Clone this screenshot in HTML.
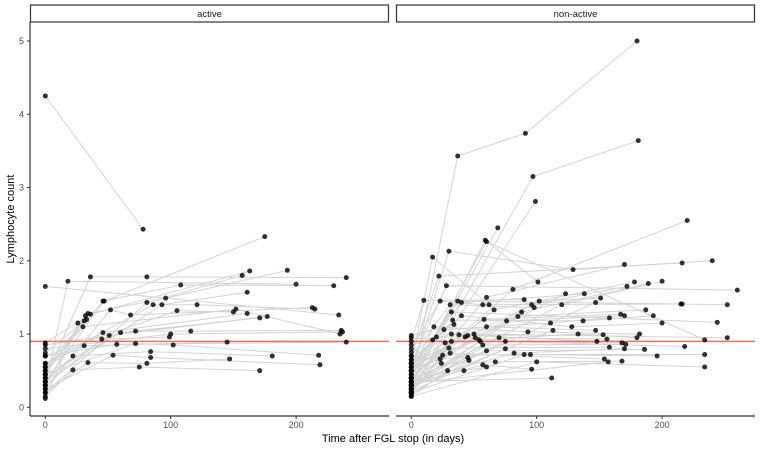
<!DOCTYPE html>
<html><head><meta charset="utf-8"><style>
body{margin:0;background:#fff;font-family:"Liberation Sans",sans-serif}
svg text{font-family:"Liberation Sans",sans-serif}
</style></head><body>
<svg id="c" width="760" height="448"></svg>
<script>
const yTicks=[0,1,2,3,4,5];
const xTicks=[0,100,200];
const panelNames=["active","non-active"];
const threshold=0.9;
const activeData=[
[[0,4.25],[78,2.43]],[[0,1.65],[234,1.26]],[[0,0.3],[18,1.72],[200,1.68]],
[[0,0.4],[36,1.78],[81,1.78],[240,1.77]],[[0,0.35],[47,1.45],[175,2.33]],
[[0,0.5],[46,1.45],[108,1.67],[230,1.66]],[[0,0.3],[32,1.25],[163,1.86]],
[[0,0.45],[34,1.28],[96,1.49],[193,1.87]],[[0,0.2],[81,1.43],[157,1.8]],
[[0,0.25],[52,1.33],[68,1.26],[213,1.36]],[[0,0.6],[86,1.4],[121,1.4],[215,1.34]],
[[0,0.35],[93,1.4],[161,1.57]],[[0,0.7],[105,1.32],[150,1.3]],
[[0,0.5],[30,1.1],[152,1.34],[235,1.0]],[[0,0.55],[46,1.02],[161,1.28]],
[[0,0.45],[60,1.02],[171,1.22]],[[0,0.4],[51,0.98],[177,1.24]],
[[0,0.85],[72,1.04],[116,1.04],[236,1.05]],[[0,0.8],[100,1.0],[237,1.03]],
[[0,0.3],[45,0.93],[99,0.96]],[[0,0.6],[31,0.84],[145,0.89]],
[[0,0.7],[57,0.86],[240,0.89]],[[0,0.45],[72,0.87],[102,0.85],[218,0.71]],
[[0,0.35],[22,0.7],[84,0.76],[181,0.7]],[[0,0.25],[54,0.71],[84,0.68],[219,0.58]],
[[0,0.2],[34,0.61],[81,0.6],[147,0.66]],[[0,0.15],[22,0.51],[75,0.55],[171,0.5]],
[[0,0.12],[26,1.15]],[[0,0.88],[36,1.27]],[[0,0.74],[33,1.2]],[[0,0.55],[31,1.18]]
];
const nonActiveData=[
[[0,0.3],[37,3.43],[91,3.74],[180,5.0]],[[0,0.2],[97,3.15],[181,3.64]],
[[0,0.25],[99,2.81]],[[0,0.35],[69,2.45]],[[0,0.3],[59,2.28],[101,1.71]],
[[0,0.4],[60,2.26],[234,0.92]],[[0,0.5],[30,2.13],[129,1.88],[240,2.0]],
[[0,0.6],[17,2.05],[62,1.4]],[[0,0.7],[22,1.79],[216,1.97]],
[[0,0.4],[81,1.61],[220,2.55]],[[0,0.3],[60,1.5],[170,1.95]],
[[0,0.6],[28,1.66],[260,1.6]],[[0,0.5],[37,1.45],[215,1.41],[252,1.4]],
[[0,0.45],[32,1.3],[244,1.16]],[[0,0.55],[50,1.0],[252,0.95]],
[[0,0.2],[90,0.72],[234,0.72]],[[0,0.15],[100,0.62],[234,0.55]],
[[0,0.3],[75,0.9],[218,0.83]],[[0,0.35],[120,1.4],[200,1.72]],
[[0,0.25],[88,1.3],[189,1.69]],[[0,0.4],[66,1.33],[178,1.71]],
[[0,0.45],[96,1.4],[172,1.65]],[[0,0.5],[123,1.55]],[[0,0.55],[40,1.43],[138,1.55]],
[[0,0.6],[102,1.45],[151,1.49]],[[0,0.3],[147,1.43]],[[0,0.35],[112,0.4]],
[[0,0.9],[10,1.46],[90,1.47]],[[0,0.8],[23,1.45],[57,1.4],[216,1.41]],
[[0,0.7],[31,1.4],[98,1.36]],[[0,0.65],[40,1.25],[128,1.1],[200,1.15]],
[[0,0.6],[26,1.06],[111,1.15],[158,1.22]],[[0,0.5],[58,1.2],[167,1.27]],
[[0,0.4],[76,1.18],[170,1.25]],[[0,0.45],[33,1.19],[137,1.18],[193,1.25]],
[[0,0.3],[85,1.24],[187,1.33]],[[0,0.35],[60,1.1],[147,1.05]],
[[0,0.5],[18,1.1],[93,1.03],[182,1.0]],[[0,0.55],[45,0.98],[153,0.99]],
[[0,0.6],[54,0.92],[133,1.0],[180,0.95]],[[0,0.25],[70,0.95],[156,0.93]],
[[0,0.2],[38,0.99],[148,0.9]],[[0,0.4],[32,0.9],[168,0.88]],
[[0,0.3],[57,0.85],[171,0.86]],[[0,0.65],[30,0.81],[158,0.82]],
[[0,0.35],[82,0.74],[170,0.8]],[[0,0.4],[60,0.77],[186,0.79]],
[[0,0.2],[25,0.71],[95,0.72],[196,0.7]],[[0,0.3],[31,0.74],[154,0.66]],
[[0,0.25],[24,0.6],[67,0.62],[168,0.63]],[[0,0.3],[57,0.58],[96,0.52]],
[[0,0.15],[29,0.5],[42,0.5],[60,0.55]],[[0,0.5],[23,0.66],[45,0.68]],
[[0,0.6],[27,0.88],[55,0.9]],[[0,0.75],[20,0.96],[43,0.96]],
[[0,0.85],[32,1.0],[51,0.95]],[[0,0.95],[17,0.92]],[[0,0.98],[34,1.13]],
[[0,0.18],[46,0.64]],[[0,0.22],[75,0.8]],[[0,0.28],[113,1.05]],[[0,0.33],[157,0.62]]
];
const NS="http://www.w3.org/2000/svg";
const svg=document.getElementById('c');
function mk(t,a,p){const e=document.createElementNS(NS,t);for(const k in a)e.setAttribute(k,a[k]);(p||svg).appendChild(e);return e;}
const yTop=41,yBot=407.3;
function yS(v){return yBot-(v-0)*(yBot-yTop)/5;}
const panels=[{x0:30,x1:389,z:45.3,data:activeData},{x0:396,x1:755,z:411.3,data:nonActiveData}];
function xS(p,d){return p.z+d*1.254;}
panels.forEach((p,i)=>{
  const g=mk('g',{});
  
  
  const strip=mk('rect',{x:p.x0+0.5,y:5,width:p.x1-p.x0-1,height:17,fill:'#fff',stroke:'#333','stroke-width':1.2},g);
  
  
  const st=mk('text',{x:(p.x0+p.x1)/2,y:17,'text-anchor':'middle','font-size':9.5,fill:'#1a1a1a'},g);
  st.textContent=panelNames[i];
  
  
  p.data.forEach(s=>{
    const pl=mk('polyline',{points:s.map(q=>xS(p,q[0])+','+yS(q[1])).join(' '),fill:'none',stroke:'#d3d3d3','stroke-width':1},g);
    
    
  });
  const th=mk('line',{x1:p.x0,x2:p.x1,y1:yS(threshold),y2:yS(threshold),stroke:'#ee6f66','stroke-width':1.6},g);
  
  
  p.data.forEach(s=>s.forEach(q=>{
    const c=mk('circle',{cx:xS(p,q[0]),cy:yS(q[1]),r:2.5,fill:'#000','fill-opacity':0.8},g);
    
    
  }));
  const xa=mk('line',{x1:p.x0,x2:p.x1,y1:416,y2:416,stroke:'#333','stroke-width':1.2},g);
  
  
  xTicks.forEach(t=>{
    const x=xS(p,t);
    mk('line',{x1:x,x2:x,y1:416,y2:419,stroke:'#333'},g);
    const tl=mk('text',{x:x,y:428,'text-anchor':'middle','font-size':9,fill:'#4d4d4d'},g);
    tl.textContent=t;
    
    
  });
  if(i===0){
    const ya=mk('line',{x1:30,x2:30,y1:22,y2:416,stroke:'#333','stroke-width':1.2},g);
    
    
    yTicks.forEach(t=>{
      const y=yS(t);
      mk('line',{x1:27,x2:30,y1:y,y2:y,stroke:'#333'},g);
      const tl=mk('text',{x:24,y:y+3,'text-anchor':'end','font-size':9,fill:'#4d4d4d'},g);
      tl.textContent=t;
      
      
    });
  }
});
const yt=mk('text',{x:0,y:0,transform:'translate(14,219) rotate(-90)','text-anchor':'middle','font-size':11,fill:'#000'});
yt.textContent='Lymphocyte count';


const xt=mk('text',{x:393,y:442,'text-anchor':'middle','font-size':11,fill:'#000'});
xt.textContent='Time after FGL stop (in days)';


</script>
</body></html>
